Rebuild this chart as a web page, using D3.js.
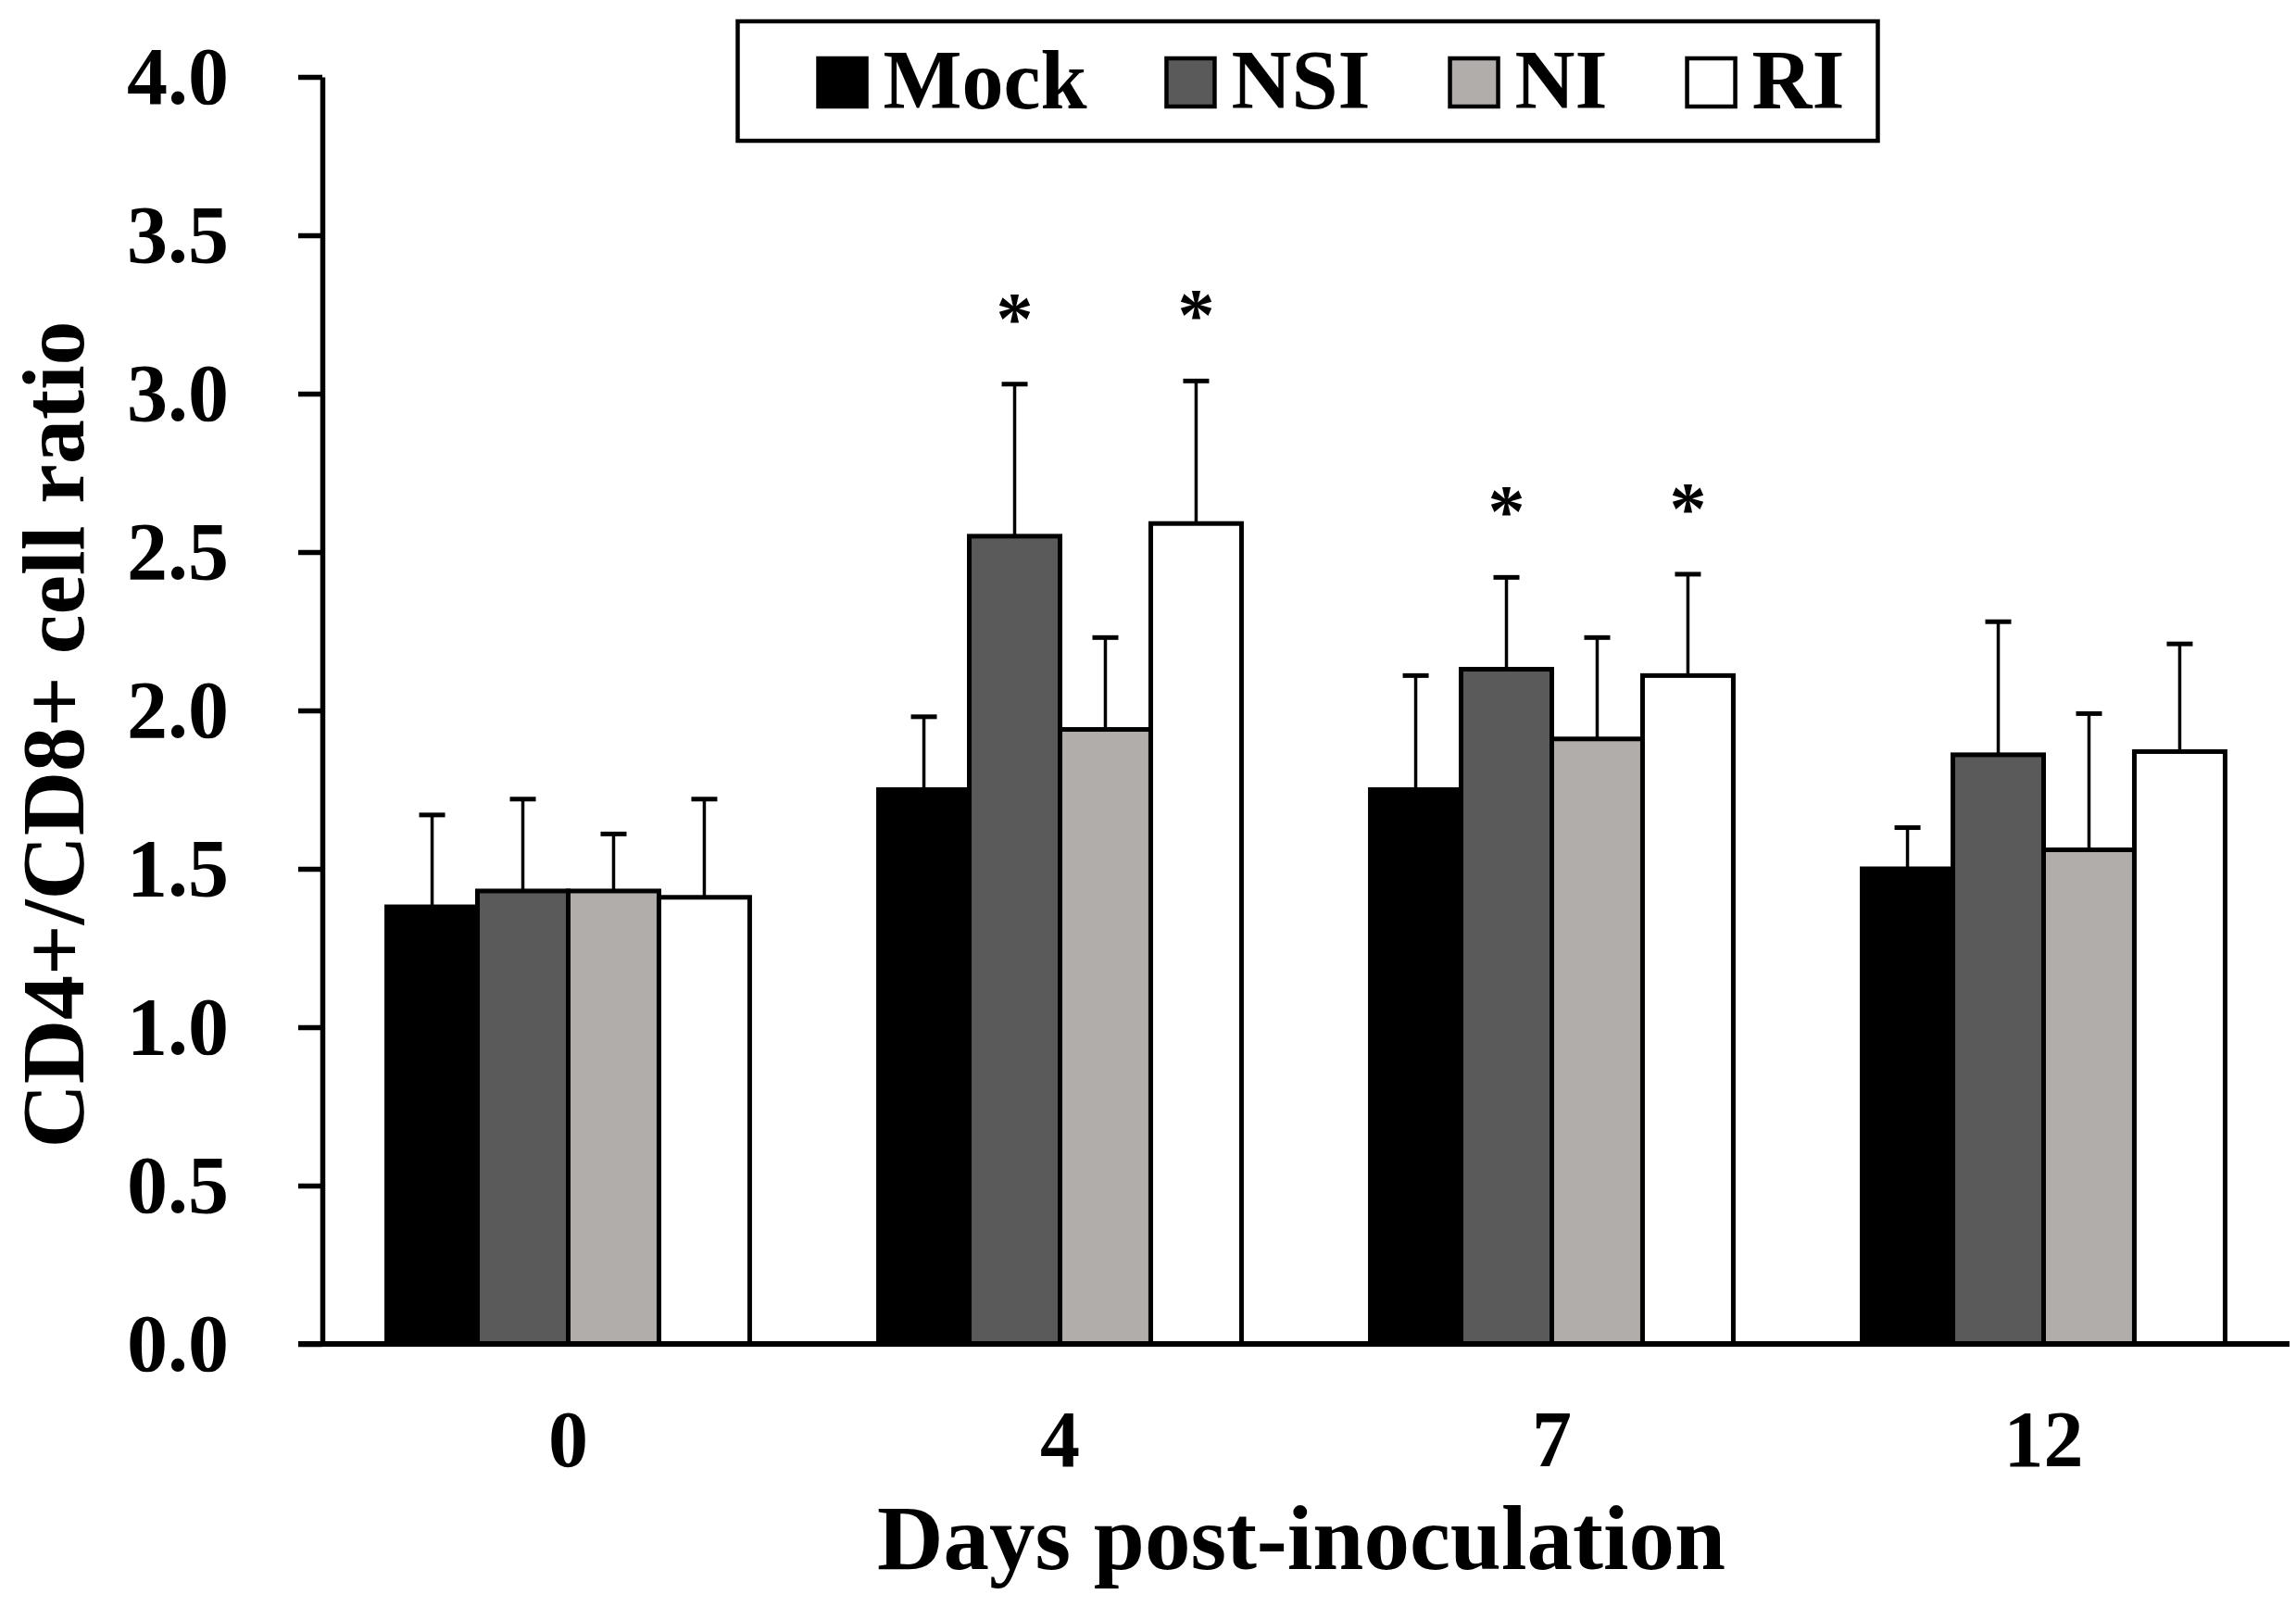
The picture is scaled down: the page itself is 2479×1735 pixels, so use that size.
<!DOCTYPE html>
<html>
<head>
<meta charset="utf-8">
<script src="https://cdn.jsdelivr.net/npm/d3@7.9.0/dist/d3.min.js"></script>
<style>
  body { margin: 0; background: #fff; }
  svg { display: block; font-family: "Liberation Serif", "Times New Roman", serif; font-weight: bold; }
</style>
</head>
<body>
<div id="chart"></div>
<script>
// values (mean and upward SD)
const days = ['0', '4', '7', '12'];
const groups = ['Mock', 'NSI', 'NI', 'RI'];
const groupColors = ['#000000', '#5a5a5a', '#b0adab', '#ffffff'];

const mockMean = [1.38, 1.75, 1.75, 1.50];
const nsiMean = [1.43, 2.55, 2.13, 1.86];
const niMean = [1.43, 1.94, 1.91, 1.56];
const riMean = [1.41, 2.59, 2.11, 1.87];

const mockSd = [0.29, 0.23, 0.36, 0.13];
const nsiSd = [0.29, 0.48, 0.29, 0.42];
const niSd = [0.18, 0.29, 0.32, 0.43];
const riSd = [0.31, 0.45, 0.32, 0.34];

// significance asterisks (day, group)
const starred = [['4', 'NSI'], ['4', 'RI'], ['7', 'NSI'], ['7', 'RI']];

const yTicks = [0, 0.5, 1, 1.5, 2, 2.5, 3, 3.5, 4];

const means = [mockMean, nsiMean, niMean, riMean];
const sds = [mockSd, nsiSd, niSd, riSd];

const rows = [];
groups.forEach((g, gi) => {
  days.forEach((d, di) => {
    rows.push({
      day: d,
      group: g,
      color: groupColors[gi],
      mean: means[gi][di],
      sd: sds[gi][di],
      star: starred.some(([sd, sg]) => sd === d && sg === g),
    });
  });
});

const width = 2479;
const height = 1735;
const margin = { top: 83, right: 7, bottom: 284, left: 348 };

const svg = d3.select('#chart')
  .append('svg')
  .attr('width', width)
  .attr('height', height);

const x0 = d3.scaleBand()
  .domain(days)
  .range([margin.left, width - margin.right])
  .paddingInner(0.262)
  .paddingOuter(0.131);

const x1 = d3.scaleBand()
  .domain(groups)
  .range([0, x0.bandwidth()]);

const y = d3.scaleLinear()
  .domain([0, 4])
  .range([height - margin.bottom, margin.top]);

const tickLen = 26;

// bars
svg.append('g')
  .attr('class', 'bars')
  .selectAll('rect')
  .data(rows)
  .join('rect')
  .attr('x', (d) => x0(d.day) + x1(d.group))
  .attr('y', (d) => y(d.mean))
  .attr('width', x1.bandwidth())
  .attr('height', (d) => y(0) - y(d.mean))
  .attr('fill', (d) => d.color)
  .attr('stroke', '#000')
  .attr('stroke-width', 5);

// error bars (upper only)
const err = svg.append('g').attr('class', 'errors').attr('stroke', '#000');

err.selectAll('line.stem')
  .data(rows)
  .join('line')
  .attr('class', 'stem')
  .attr('x1', (d) => x0(d.day) + x1(d.group) + x1.bandwidth() / 2)
  .attr('x2', (d) => x0(d.day) + x1(d.group) + x1.bandwidth() / 2)
  .attr('y1', (d) => y(d.mean))
  .attr('y2', (d) => y(d.mean + d.sd))
  .attr('stroke-width', 3.5);

err.selectAll('line.cap')
  .data(rows)
  .join('line')
  .attr('class', 'cap')
  .attr('x1', (d) => x0(d.day) + x1(d.group) + x1.bandwidth() / 2 - 14)
  .attr('x2', (d) => x0(d.day) + x1(d.group) + x1.bandwidth() / 2 + 14)
  .attr('y1', (d) => y(d.mean + d.sd))
  .attr('y2', (d) => y(d.mean + d.sd))
  .attr('stroke-width', 5);

// asterisks
svg.append('g')
  .attr('class', 'stars')
  .selectAll('text')
  .data(rows.filter((d) => d.star))
  .join('text')
  .attr('x', (d) => x0(d.day) + x1(d.group) + x1.bandwidth() / 2)
  .attr('y', (d) => y(d.mean + d.sd) - 44)
  .attr('text-anchor', 'middle')
  .style('font-size', '80px')
  .text('*');

// y axis
const yAxis = svg.append('g')
  .attr('transform', `translate(${margin.left}, 0)`)
  .call(
    d3.axisLeft(y)
      .tickValues(yTicks)
      .tickFormat(d3.format('.1f'))
      .tickSize(tickLen)
      .tickSizeOuter(0)
      .tickPadding(75)
  );

yAxis.select('.domain').attr('stroke-width', 5.5);
yAxis.selectAll('.tick line').attr('stroke-width', 5.5);
yAxis.selectAll('.tick text')
  .attr('fill', '#000')
  .style('font-size', '88px')
  .style('font-family', '"Liberation Serif", "Times New Roman", serif')
  .style('font-weight', 'bold');

// x axis
const xAxis = svg.append('g')
  .attr('transform', `translate(0, ${y(0)})`)
  .call(d3.axisBottom(x0).tickSize(0).tickPadding(71));

xAxis.select('.domain').remove();
xAxis.selectAll('.tick text')
  .attr('fill', '#000')
  .style('font-size', '86px')
  .style('font-family', '"Liberation Serif", "Times New Roman", serif')
  .style('font-weight', 'bold');

svg.append('line')
  .attr('x1', margin.left - tickLen)
  .attr('x2', x0.range()[1])
  .attr('y1', y(0))
  .attr('y2', y(0))
  .attr('stroke', '#000')
  .attr('stroke-width', 6);

// axis titles
const plotCenterX = (x0.range()[0] + x0.range()[1]) / 2;

svg.append('text')
  .attr('x', plotCenterX - 5)
  .attr('y', 1694)
  .attr('text-anchor', 'middle')
  .style('font-size', '99px')
  .text('Days post-inoculation');

svg.append('text')
  .attr('transform', `translate(90, ${(y(0) + y(4)) / 2 + 26}) rotate(-90)`)
  .attr('text-anchor', 'middle')
  .style('font-size', '96px')
  .text('CD4+/CD8+ cell ratio');

// legend
const legendW = 1231;
const legendH = 129;
const legendX = plotCenterX + 2 - legendW / 2;
const legendY = 23;
const swatch = 52;

const legend = svg.append('g').attr('class', 'legend');

legend.append('rect')
  .attr('x', legendX)
  .attr('y', legendY)
  .attr('width', legendW)
  .attr('height', legendH)
  .attr('fill', '#fff')
  .attr('stroke', '#000')
  .attr('stroke-width', 4.5);

let cursor = legendX + 87;
groups.forEach((g, i) => {
  legend.append('rect')
    .attr('x', cursor)
    .attr('y', legendY + 40)
    .attr('width', swatch)
    .attr('height', swatch)
    .attr('fill', groupColors[i])
    .attr('stroke', '#000')
    .attr('stroke-width', 4.5);

  const label = legend.append('text')
    .attr('x', cursor + swatch + 18)
    .attr('y', legendY + 94)
    .style('font-size', '90px')
    .text(g);

  cursor += swatch + 18 + label.node().getComputedTextLength() + 86;
});
</script>
</body>
</html>
